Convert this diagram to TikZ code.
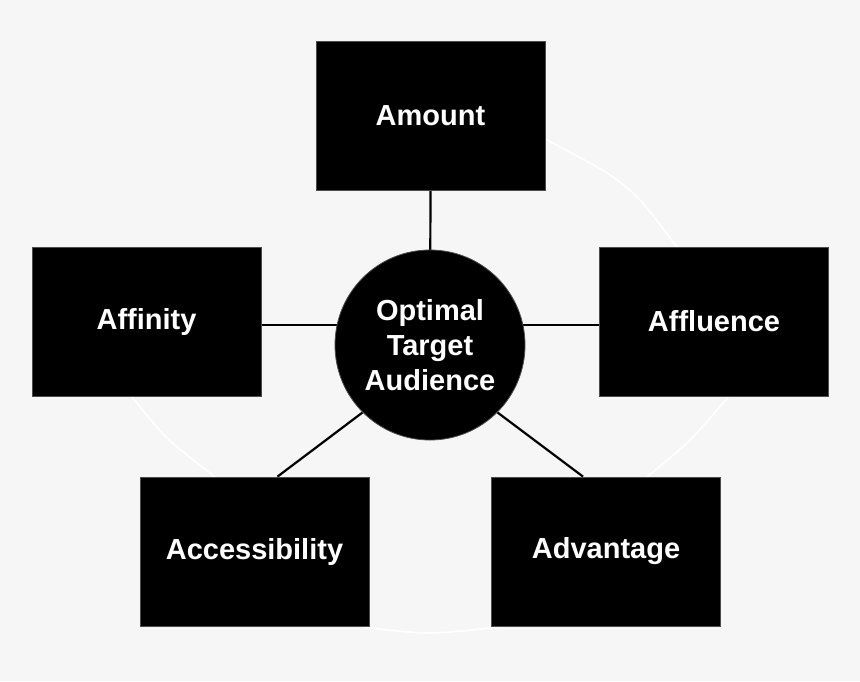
\documentclass[tikz,border=0pt]{standalone}
\usepackage{fontspec}
\setmainfont{Liberation Sans}
\usetikzlibrary{calc}
\definecolor{bgc}{HTML}{F6F6F6}
\pgfdeclarelayer{bg}
\pgfsetlayers{bg,main}
\begin{document}
\begin{tikzpicture}[x=1pt,y=-1pt,
  lbl/.style={text=white, font=\bfseries\fontsize{29}{35}\selectfont},
  box/.style={lbl, draw=gray!60!black, line width=0.8pt, fill=black,
    minimum width=229pt, minimum height=149pt, inner sep=0pt},
  hub/.style={lbl, circle, draw=gray!60!black, line width=0.8pt, fill=black,
    minimum size=190pt, inner sep=0pt, align=center},
  conn/.style={draw=black, line width=2.2pt},
  ring/.style={draw=white, line width=1.6pt}]
\useasboundingbox (0,0) rectangle (860,681);
\node[hub] (center) at (430,345) {Optimal\\Target\\Audience};
\node[box] (amount) at (430.5,115.5) {Amount};
\node[box] (affinity) at (146.5,321.5) {Affinity};
\node[box] (affluence) at (714,321.5) {Affluence};
\node[box] (access) at (254.5,551.5) {Accessibility};
\node[box] (advantage) at (606,551.5) {Advantage};
\coordinate (la) at ([yshift=-3.5pt]affinity.east);
\coordinate (ra) at ([yshift=-3.5pt]affluence.west);
\begin{pgfonlayer}{bg}
  \fill[bgc] (0,0) rectangle (860,681);
  \draw[ring] plot[smooth] coordinates {(538,136) (547,140) (607,173) (640,200) (677,247) (684,256)};
  \draw[ring] plot[smooth] coordinates {(731,392) (728,397) (690,440) (647,477) (640,482)};
  \draw[ring] plot[smooth] coordinates {(129,392) (132,397) (167,438) (215,477) (222,482)};
  \draw[ring] plot[smooth] coordinates {(360,625) (370,628) (430,633) (490,628) (500,625)};
  \draw[conn] (amount.south) -- (center.center);
  \draw[conn] (la) -- (la -| center.center);
  \draw[conn] (ra) -- (ra -| center.center);
  \draw[conn] ($(access.north west)!0.6!(access.north east)$) -- (center.225);
  \draw[conn] ($(advantage.north west)!0.4!(advantage.north east)$) -- (center.315);
\end{pgfonlayer}
\end{tikzpicture}
\end{document}
